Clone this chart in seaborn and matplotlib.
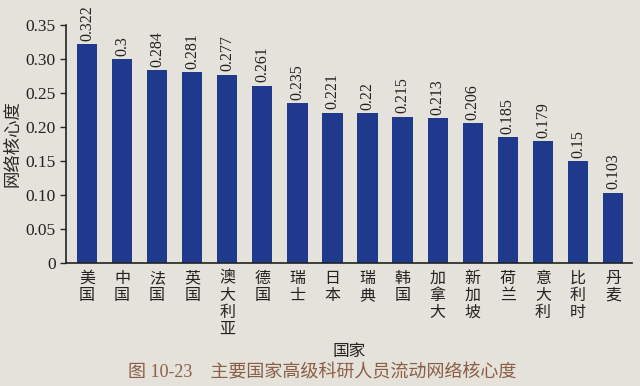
import pandas as pd
import matplotlib.pyplot as plt
import seaborn as sns

# country names and network core degree values
countries = ['美国', '中国', '法国', '英国', '澳大利亚', '德国', '瑞士', '日本',
             '瑞典', '韩国', '加拿大', '新加坡', '荷兰', '意大利', '比利时', '丹麦']
values = [0.322, 0.3, 0.284, 0.281, 0.277, 0.261, 0.235, 0.221,
          0.22, 0.215, 0.213, 0.206, 0.185, 0.179, 0.15, 0.103]
y_ticks = [0, 0.05, 0.10, 0.15, 0.20, 0.25, 0.30, 0.35]
y_tick_labels = ['0', '0.05', '0.10', '0.15', '0.20', '0.25', '0.30', '0.35']

df = pd.DataFrame({'country': countries, 'value': values})

sns.set_style('ticks')
plt.rcParams['font.family'] = ['Liberation Serif', 'Noto Sans CJK SC', 'DejaVu Sans']

bg = '#e4e2da'
fig = plt.figure(figsize=(6.4, 3.86), dpi=100, facecolor=bg)
ax = fig.add_axes([0.103, 0.319, 0.885, 0.616])
ax.set_facecolor(bg)

sns.barplot(data=df, x='country', y='value', color='#1f3a8c', width=0.58,
            saturation=1, linewidth=0, ax=ax)

# value labels above each bar, rotated
for i, v in enumerate(values):
    ax.text(i, v + 0.005, str(v), rotation=90, ha='center', va='bottom',
            fontsize=11.5, color='#222222')

ax.set_xlim(-0.6, 15.55)
ax.set_ylim(0, 0.35)
ax.set_yticks(y_ticks)
ax.set_yticklabels(y_tick_labels, fontsize=12.5, color='#222222')
ax.set_xticks(range(len(countries)))
ax.set_xticklabels(['\n'.join(c) for c in countries], fontsize=11.5,
                   linespacing=1.0, va='top', color='#222222',
                   family=['Noto Sans CJK SC'])
ax.tick_params(axis='x', length=0, pad=5)
ax.tick_params(axis='y', length=4, width=1, direction='out')

ax.set_xlabel('国家', fontsize=12, family=['Noto Sans CJK SC'], labelpad=4)
ax.set_ylabel('网络核心度', fontsize=12.5, family=['Noto Sans CJK SC'], labelpad=3)

for side in ['top', 'right']:
    ax.spines[side].set_visible(False)
for side in ['left', 'bottom']:
    ax.spines[side].set_color('#222222')
    ax.spines[side].set_linewidth(1.2)

fig.text(0.503, 0.034, '图 10-23    主要国家高级科研人员流动网络核心度', ha='center',
         va='center', fontsize=13, color='#8b5e45',
         family=['Liberation Serif', 'Noto Sans CJK SC'])

plt.savefig('out.png', dpi=100, facecolor=bg)
